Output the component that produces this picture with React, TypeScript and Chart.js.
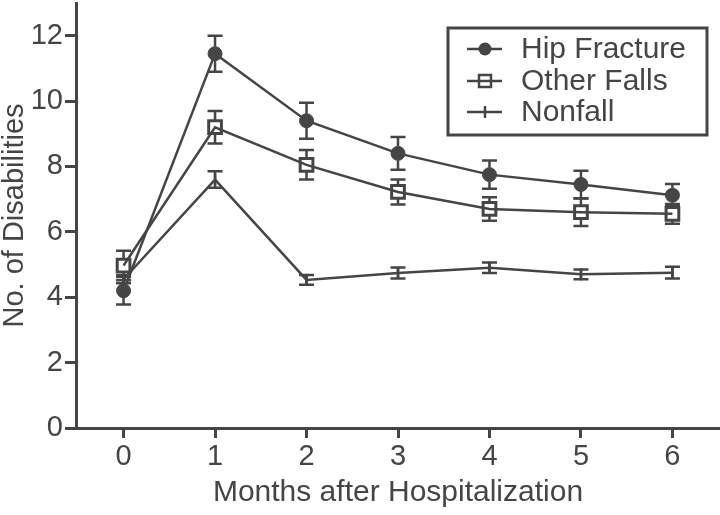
import React, { useEffect, useRef } from "react";
import { Chart, registerables } from "chart.js";

Chart.register(...registerables);

const months = [0, 1, 2, 3, 4, 5, 6];
const hipFracture = [4.2, 11.45, 9.4, 8.4, 7.75, 7.45, 7.12];
const hipFractureErr = [0.42, 0.55, 0.55, 0.5, 0.43, 0.42, 0.34];
const otherFalls = [4.97, 9.2, 8.05, 7.22, 6.7, 6.6, 6.55];
const otherFallsErr = [0.45, 0.5, 0.45, 0.38, 0.36, 0.42, 0.3];
const nonfall = [4.55, 7.6, 4.53, 4.74, 4.9, 4.7, 4.75];
const nonfallErr = [0.12, 0.25, 0.15, 0.17, 0.16, 0.15, 0.18];
const xTicks = [0, 1, 2, 3, 4, 5, 6];
const yTicks = [0, 2, 4, 6, 8, 10, 12];
const seriesNames = ["Hip Fracture", "Other Falls", "Nonfall"];

const INK = "#454545";
const FONT = "'Liberation Sans', Arial, sans-serif";

const AREA = { left: 76, top: 3, right: 720, bottom: 428 };

const markerHalf = [7, 7, 0];

const fixLayoutPlugin = {
  id: "fixLayout",
  afterLayout(chart: any) {
    const x = chart.scales.x;
    const y = chart.scales.y;
    x.left = AREA.left;
    x.right = AREA.right;
    x.width = AREA.right - AREA.left;
    x.top = AREA.bottom;
    x.bottom = chart.height;
    x.height = chart.height - AREA.bottom;
    y.top = AREA.top;
    y.bottom = AREA.bottom;
    y.height = AREA.bottom - AREA.top;
    y.left = 0;
    y.right = AREA.left;
    y.width = AREA.left;
    x.configure();
    y.configure();
    const ca = chart.chartArea;
    ca.left = AREA.left;
    ca.right = AREA.right;
    ca.top = AREA.top;
    ca.bottom = AREA.bottom;
    ca.width = AREA.right - AREA.left;
    ca.height = AREA.bottom - AREA.top;
  },
};

const errorBarPlugin = {
  id: "errorBars",
  beforeDatasetsDraw(chart: any) {
    const ctx = chart.ctx;
    const errs = [hipFractureErr, otherFallsErr, nonfallErr];
    const yScale = chart.scales.y;
    ctx.save();
    ctx.strokeStyle = INK;
    ctx.lineWidth = 2.5;
    chart.data.datasets.forEach((ds: any, di: number) => {
      const meta = chart.getDatasetMeta(di);
      meta.data.forEach((pt: any, i: number) => {
        const v = ds.data[i].y;
        const e = errs[di][i];
        const x = pt.x;
        const yTop = yScale.getPixelForValue(v + e);
        const yBot = yScale.getPixelForValue(v - e);
        const yc = pt.y;
        const h = markerHalf[di];
        ctx.beginPath();
        ctx.moveTo(x, yTop);
        ctx.lineTo(x, Math.min(yc - h, yBot));
        ctx.moveTo(x, Math.max(yc + h, yTop));
        ctx.lineTo(x, yBot);
        ctx.moveTo(x - 7.5, yTop);
        ctx.lineTo(x + 7.5, yTop);
        ctx.moveTo(x - 7.5, yBot);
        ctx.lineTo(x + 7.5, yBot);
        ctx.stroke();
      });
    });
    ctx.restore();
  },
};

const legendPlugin = {
  id: "boxLegend",
  afterDraw(chart: any) {
    const ctx = chart.ctx;
    ctx.save();
    const bx = 448, by = 28, bw = 259, bh = 107;
    ctx.strokeStyle = INK;
    ctx.lineWidth = 3;
    ctx.strokeRect(bx, by, bw, bh);
    const rows = [49, 81, 112];
    ctx.font = `30px ${FONT}`;
    ctx.fillStyle = INK;
    ctx.textBaseline = "middle";
    ctx.textAlign = "left";
    rows.forEach((ry, i) => {
      ctx.lineWidth = 2.5;
      ctx.strokeStyle = INK;
      ctx.beginPath();
      ctx.moveTo(467, ry);
      ctx.lineTo(502, ry);
      ctx.stroke();
      const cx = 485;
      if (i === 0) {
        ctx.beginPath();
        ctx.arc(cx, ry, 6.5, 0, Math.PI * 2);
        ctx.fill();
      } else if (i === 1) {
        ctx.fillStyle = "#fff";
        ctx.fillRect(cx - 6, ry - 6, 12, 12);
        ctx.fillStyle = INK;
        ctx.lineWidth = 2.5;
        ctx.strokeRect(cx - 6, ry - 6, 12, 12);
        ctx.beginPath();
        ctx.moveTo(cx - 6, ry);
        ctx.lineTo(cx + 6, ry);
        ctx.stroke();
      } else {
        ctx.beginPath();
        ctx.moveTo(cx, ry - 6);
        ctx.lineTo(cx, ry + 6);
        ctx.stroke();
      }
      ctx.fillStyle = INK;
      ctx.fillText(seriesNames[i], 521, ry + 1);
    });
    ctx.restore();
  },
};

export default function App() {
  const ref = useRef<HTMLCanvasElement | null>(null);
  useEffect(() => {
    if (!ref.current) return;
    const mk = (ys: number[]) => months.map((m, i) => ({ x: m, y: ys[i] }));
    const chart = new Chart(ref.current, {
      type: "line",
      data: {
        datasets: [
          {
            label: seriesNames[0],
            data: mk(hipFracture),
            borderColor: INK,
            backgroundColor: INK,
            borderWidth: 2.5,
            pointStyle: "circle",
            pointRadius: 7,
            pointBorderWidth: 1,
            pointBackgroundColor: INK,
            pointBorderColor: INK,
            tension: 0,
          },
          {
            label: seriesNames[1],
            data: mk(otherFalls),
            borderColor: INK,
            backgroundColor: "rgba(0,0,0,0)",
            borderWidth: 2.5,
            pointStyle: "rect",
            pointRadius: 9,
            pointBorderWidth: 3,
            pointBackgroundColor: "rgba(0,0,0,0)",
            pointBorderColor: INK,
            tension: 0,
          },
          {
            label: seriesNames[2],
            data: mk(nonfall),
            borderColor: INK,
            backgroundColor: INK,
            borderWidth: 2.5,
            pointStyle: "line",
            rotation: 90,
            pointRadius: 6,
            pointBorderWidth: 2.5,
            pointBorderColor: INK,
            tension: 0,
          },
        ],
      },
      options: {
        responsive: false,
        animation: false,
        layout: { padding: { top: 3, right: 0, left: 0, bottom: 0 } },
        plugins: {
          legend: { display: false },
          tooltip: { enabled: false },
        },
        scales: {
          x: {
            type: "linear",
            min: -0.52,
            max: 6.52,
            afterBuildTicks: (axis: any) => {
              axis.ticks = xTicks.map((v) => ({ value: v }));
            },
            grid: {
              drawOnChartArea: false,
              drawTicks: true,
              tickLength: 10,
              color: INK,
              lineWidth: 3,
            },
            border: { display: true, color: INK, width: 3 },
            ticks: {
              color: INK,
              font: { family: FONT, size: 29 },
              padding: 2,
              callback: (v: any) => String(v),
            },
            title: {
              display: true,
              text: "Months after Hospitalization",
              color: INK,
              font: { family: FONT, size: 30 },
              padding: { top: 0, bottom: 4 },
            },
          },
          y: {
            type: "linear",
            min: 0,
            max: 13,
            afterBuildTicks: (axis: any) => {
              axis.ticks = yTicks.map((v) => ({ value: v }));
            },
            grid: {
              drawOnChartArea: false,
              drawTicks: true,
              tickLength: 11,
              color: INK,
              lineWidth: 3,
            },
            border: { display: true, color: INK, width: 3 },
            ticks: {
              color: INK,
              font: { family: FONT, size: 29 },
              padding: 2,
              callback: (v: any) => String(v),
            },
            title: {
              display: true,
              text: "No. of Disabilities",
              color: INK,
              font: { family: FONT, size: 29, lineHeight: 1 },
              padding: { top: 0, bottom: 0 },
            },
          },
        },
      },
      plugins: [fixLayoutPlugin, errorBarPlugin, legendPlugin],
    });
    return () => chart.destroy();
  }, []);
  return (
    <div style={{ position: "absolute", left: 0, top: 0, width: 720, height: 515, background: "#fff" }}>
      <canvas ref={ref} width={720} height={515} style={{ display: "block" }} />
    </div>
  );
}
